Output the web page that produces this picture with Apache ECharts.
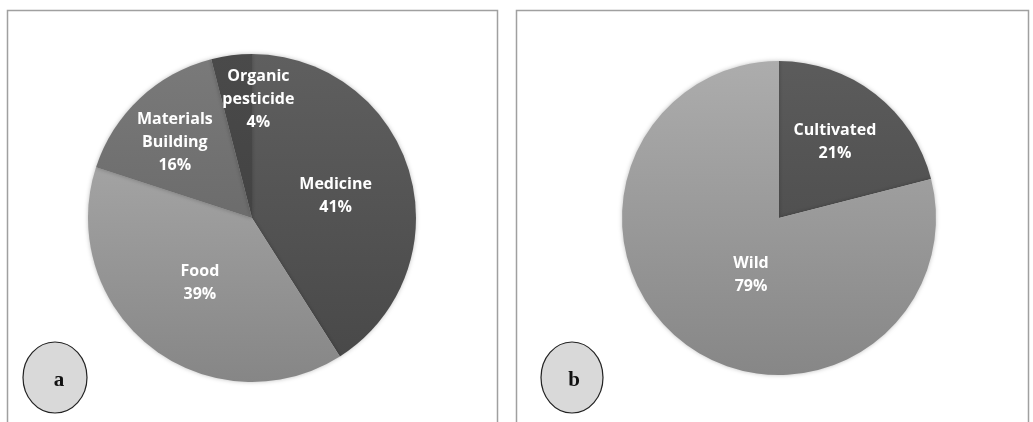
<!DOCTYPE html>
<html>
<head>
<meta charset="utf-8">
<script src="https://cdn.jsdelivr.net/npm/echarts@6/dist/echarts.min.js"></script>
<style>
html,body{margin:0;padding:0;background:#fff;}
#c{width:1033px;height:422px;}
</style>
</head>
<body>
<div id="c"></div>
<script>
// Panel a: uses of plants
var usesCategories = ['Medicine', 'Food', 'Materials Building', 'Organic pesticide'];
var usesValues = [41, 39, 16, 4];
// Panel b: origin of plants
var originCategories = ['Cultivated', 'Wild'];
var originValues = [21, 79];
var panelLetters = ['a', 'b'];

function grad(top, bottom, y0, y1) {
  return {type: 'linear', x: 0, y: y0, x2: 0, y2: y1, global: true,
    colorStops: [{offset: 0, color: top}, {offset: 1, color: bottom}]};
}
var usesColors = [
  grad('#5f5f5f', '#474747', 55, 382),
  grad('#b2b2b2', '#868686', 55, 382),
  grad('#7a7a7a', '#5e5e5e', 55, 382),
  grad('#4a4a4a', '#3c3c3c', 55, 382)
];
var originColors = [
  grad('#5c5c5c', '#444444', 57, 380),
  grad('#adadad', '#868686', 57, 380)
];
var usesShift = [[2, 2], [0, -2], [-19, -14], [17, -34]];
var originShift = [[6, -12], [22, -7]];

var labelStyle = {
  position: 'inside', color: '#ffffff', fontFamily: 'Open Sans', fontWeight: 'bold',
  fontSize: 16, lineHeight: 23,
  formatter: function (p) { return p.name.split(' ').join('\n') + '\n' + p.value + '%'; }
};

function mk(cats, vals, cols) {
  return cats.map(function (c, i) { return {name: c, value: vals[i], itemStyle: {color: cols[i]}}; });
}

var chart = echarts.init(document.getElementById('c'));
chart.setOption({
  animation: false,
  graphic: [
    {type: 'rect', shape: {x: 7.5, y: 10.5, width: 490, height: 430}, style: {fill: 'none', stroke: '#a0a0a0', lineWidth: 1.5}},
    {type: 'rect', shape: {x: 516.5, y: 10.5, width: 512, height: 430}, style: {fill: 'none', stroke: '#a0a0a0', lineWidth: 1.5}},
    {type: 'ellipse', shape: {cx: 55, cy: 377.5, rx: 32, ry: 35.5}, style: {fill: '#d9d9d9', stroke: '#222', lineWidth: 1.2}, z: 10},
    {type: 'ellipse', shape: {cx: 572, cy: 377.5, rx: 31, ry: 35.5}, style: {fill: '#d9d9d9', stroke: '#222', lineWidth: 1.2}, z: 10},
    {type: 'text', x: 59, y: 381, style: {text: panelLetters[0], font: 'bold 21px "Liberation Serif"', fill: '#111', align: 'center', verticalAlign: 'middle'}, z: 11},
    {type: 'text', x: 574, y: 381, style: {text: panelLetters[1], font: 'bold 21px "Liberation Serif"', fill: '#111', align: 'center', verticalAlign: 'middle'}, z: 11}
  ],
  series: [
    {
      type: 'pie', center: [252, 218], radius: [0, 164], startAngle: 90, clockwise: true,
      label: labelStyle, labelLine: {show: false},
      itemStyle: {borderWidth: 0, shadowBlur: 4, shadowColor: 'rgba(0,0,0,0.25)'},
      emphasis: {disabled: true},
      labelLayout: function (p) { var s = usesShift[p.dataIndex]; return {dx: s[0], dy: s[1]}; },
      data: mk(usesCategories, usesValues, usesColors)
    },
    {
      type: 'pie', center: [779, 218], radius: [0, 157], startAngle: 90, clockwise: true,
      label: labelStyle, labelLine: {show: false},
      itemStyle: {borderWidth: 0, shadowBlur: 4, shadowColor: 'rgba(0,0,0,0.25)'},
      emphasis: {disabled: true},
      labelLayout: function (p) { var s = originShift[p.dataIndex]; return {dx: s[0], dy: s[1]}; },
      data: mk(originCategories, originValues, originColors)
    }
  ]
});
</script>
</body>
</html>
